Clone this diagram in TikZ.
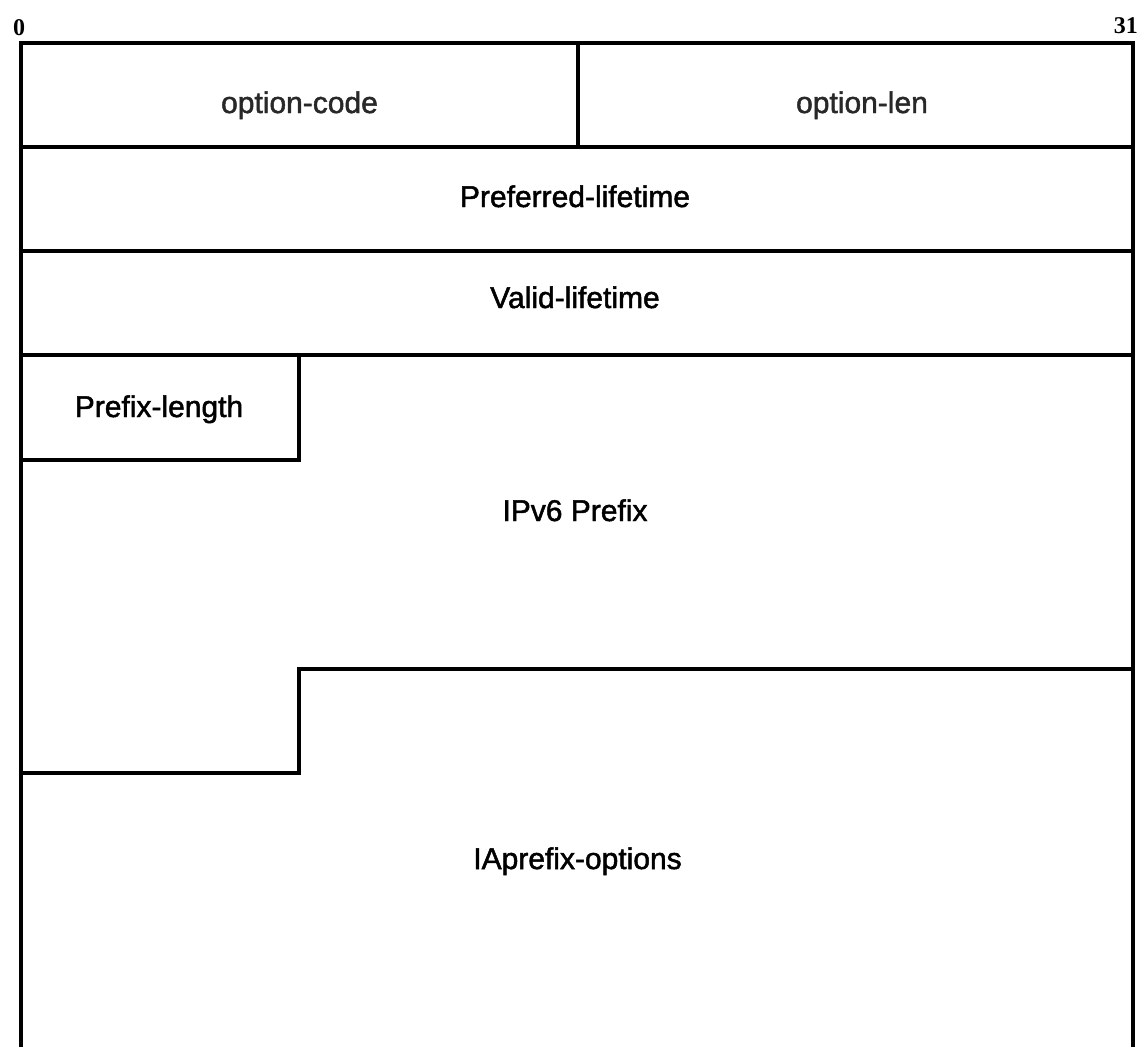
\documentclass[tikz,border=0pt]{standalone}
\usepackage{fontspec}
\setmainfont{Liberation Sans}
\newfontfamily\fieldfont{Liberation Sans}[
    BoldFont=Liberation Sans, BoldFeatures={FakeBold=1.6}]
\newfontfamily\bitfont{Liberation Serif}
\usetikzlibrary{positioning}
\definecolor{headgray}{RGB}{40,40,40}
\tikzset{
    % Field label styles
    fieldlabel/.style={
        anchor=base, inner sep=0pt,
        font=\fieldfont\bfseries\fontsize{30}{36}\selectfont
    },
    bitlabel/.style={
        anchor=base, inner sep=0pt,
        font=\bitfont\bfseries\fontsize{24}{28}\selectfont
    },
    fieldline/.style={
        draw=black, line width=3.5pt
    }
}
\begin{document}
\begin{tikzpicture}[x=1pt,y=-1pt]
\useasboundingbox (0,0) rectangle (1141,1047);

% Bit numbers
\node[bitlabel] (bitfirst) at (19,35) {0};
\node[bitlabel, anchor=base east] (bitlast) at (1138,33) {31};

% Outer frame (open at the bottom)
\draw[fieldline] (21,1047) -- (21,43) -- (1133,43) -- (1133,1047);

% Row dividers
\draw[fieldline] (578,43) -- (578,147);
\draw[fieldline] (21,147) -- (1133,147);
\draw[fieldline] (21,251) -- (1133,251);
\draw[fieldline] (21,355) -- (1133,355);

% Prefix-length box
\draw[fieldline] (299,355) -- (299,460) -- (21,460);

% Step between prefix and options
\draw[fieldline] (1133,669) -- (299,669) -- (299,773) -- (21,773);

% Field names
\node[fieldlabel, text=headgray] (optcode) at (299.5,113) {option-code};
\node[fieldlabel, text=headgray] (optlen) at (862,113) {option-len};
\node[fieldlabel] (preflife) at (575,207) {Preferred-lifetime};
\node[fieldlabel] (validlife) at (575,308) {Valid-lifetime};
\node[fieldlabel] (preflen) at (159,417) {Prefix-length};
\node[fieldlabel] (prefix) at (575,521) {IPv6 Prefix};
\node[fieldlabel] (iaopts) at (577.5,869) {IAprefix-options};

\end{tikzpicture}
\end{document}
